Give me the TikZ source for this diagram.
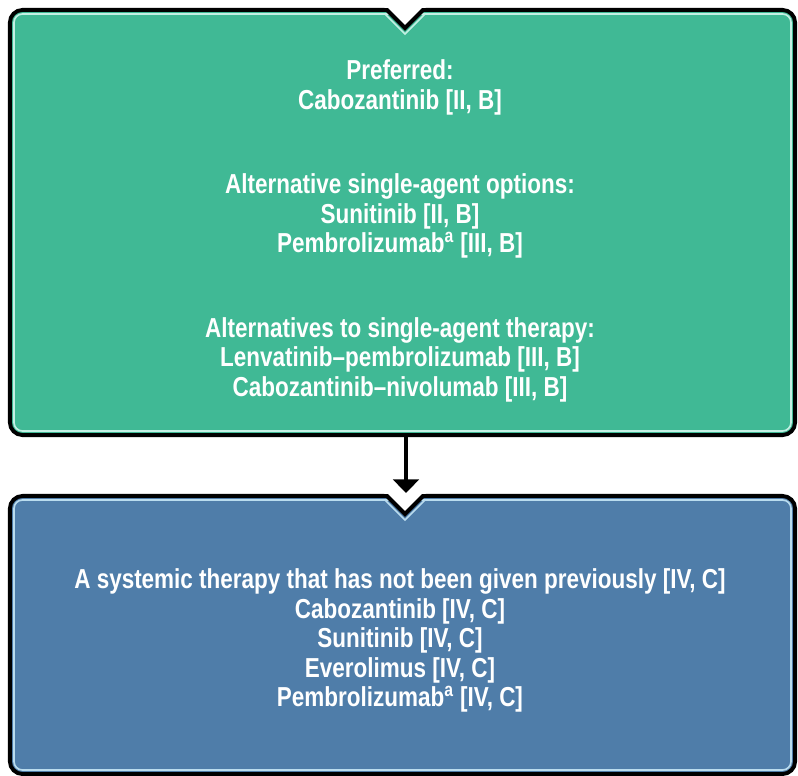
\documentclass[tikz,border=0pt]{standalone}
\usepackage{fontspec}
\setmainfont[FakeStretch=0.82]{Liberation Sans}
\usetikzlibrary{arrows.meta}
\definecolor{cFirst} {RGB}{64,185,149}
\definecolor{cSecond}{RGB}{79,125,169}
\definecolor{cRimA}  {RGB}{196,240,228}
\definecolor{cRimB}  {RGB}{186,220,238}

\begin{document}
\begin{tikzpicture}[
  x=0.025cm,y=-0.025cm,
  >={Triangle[length=3.4mm,width=6.4mm]},
  box/.style={draw,line width=2.8pt,rounded corners=9pt,
              minimum width=19.625cm,inner sep=0pt},
  rim/.style={line width=1.2pt,rounded corners=6pt},
  vee/.style={line width=2.8pt,line join=miter},
  txt/.style={text=white,align=center,font=\bfseries\fontsize{19.5}{21}\selectfont},
  arr/.style={->,line width=2.8pt},
]
\useasboundingbox (0,0) rectangle (798,776);

% ------------------------------------------------------------------ boxes
\node[box,fill=cFirst, minimum height=10.625cm] (first)  at (402.5,222.5) {};
\node[box,fill=cSecond,minimum height=6.95cm]   (second) at (402.5,635)   {};

% light inner rim just inside the black outline
\draw[rim,draw=cRimA] (14,14)  rectangle (791,431);
\draw[rim,draw=cRimB] (14,500) rectangle (791,770);

% notch in the top edge of each box
\fill[white] (381,4) -- (405,28) -- (429,4) -- cycle;
\draw[vee] (383,10) -- (387,10) -- (405,28) -- (423,10) -- (427,10);
\draw[line width=1.2pt,draw=cRimA] (382,14) -- (385,14) -- (405,34) -- (425,14) -- (428,14);
\fill[white] (381,490) -- (405,514) -- (429,490) -- cycle;
\draw[vee] (383,496) -- (387,496) -- (405,514) -- (423,496) -- (427,496);
\draw[line width=1.2pt,draw=cRimB] (382,500) -- (385,500) -- (405,520) -- (425,500) -- (428,500);
\coordinate (tip) at (406,493);

% ------------------------------------------------------------------- texts
\node[txt] (opts) at (400,231) {%
  Preferred:\\
  Cabozantinib [II, B]\\[39pt]
  Alternative single-agent options:\\
  Sunitinib [II, B]\\
  Pembrolizumab\textsuperscript{a} [III, B]\\[39pt]
  Alternatives to single-agent therapy:\\
  Lenvatinib–pembrolizumab [III, B]\\
  Cabozantinib–nivolumab [III, B]};

\node[txt] (later) at (400,640.5) {%
  A systemic therapy that has not been given previously [IV, C]\\
  Cabozantinib [IV, C]\\
  Sunitinib [IV, C]\\
  Everolimus [IV, C]\\
  Pembrolizumab\textsuperscript{a} [IV, C]};

% -------------------------------------------------------------------- flow
\draw[arr] (first.south -| tip) -- (tip);

\end{tikzpicture}
\end{document}
